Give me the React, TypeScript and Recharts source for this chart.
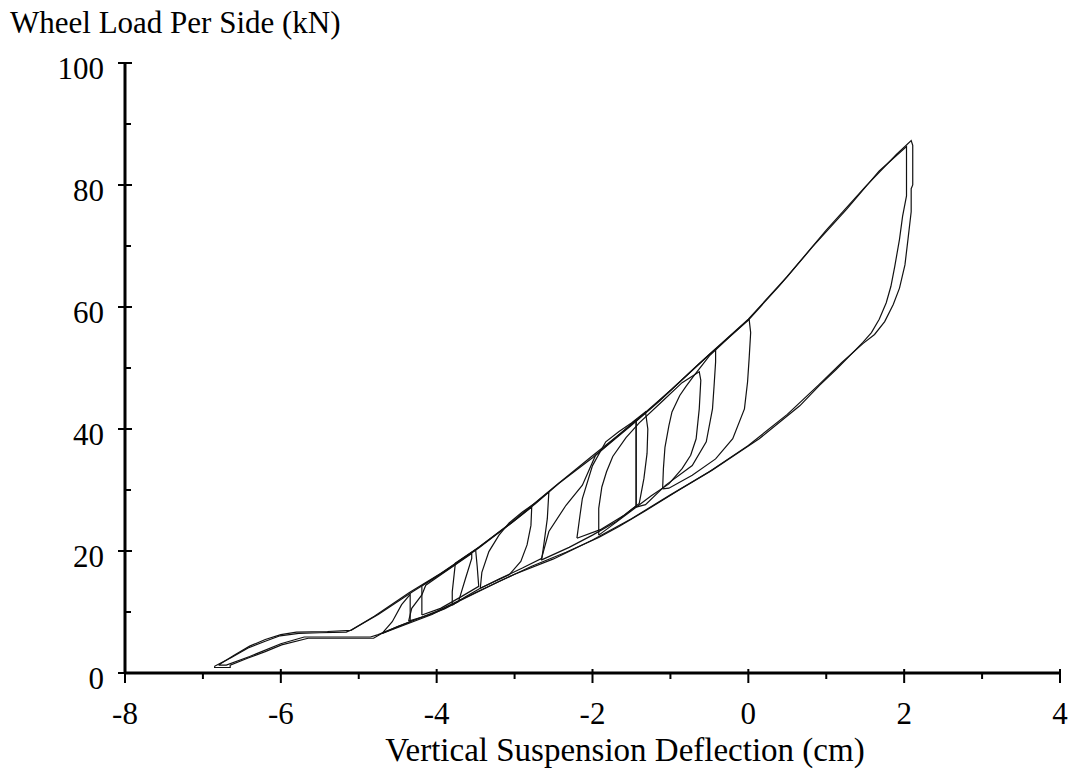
import React from 'react';
import { LineChart, Line, XAxis, YAxis } from 'recharts';

const FONT = '"Liberation Serif", "Times New Roman", serif';

const xTicks = [-8, -7, -6, -5, -4, -3, -2, -1, 0, 1, 2, 3, 4];
const yTicks = [0, 10, 20, 30, 40, 50, 60, 70, 80, 90, 100];
const xMajor = [-8, -6, -4, -2, 0, 2, 4];
const yMajor = [0, 20, 40, 60, 80, 100];
const xTitle = 'Vertical Suspension Deflection (cm)';
const yTitle = 'Wheel Load Per Side (kN)';

// Outer hysteresis loop, first cycle
const outerA: number[][] = [
  [-6.85, 1.1], [-6.64, 2.5], [-6.42, 4.1], [-6.2, 5.2], [-6.01, 6.1], [-5.77, 6.5], [-5.5, 6.6],
  [-5.16, 6.7], [-5.09, 7.1], [-4.75, 9.6], [-4.3, 13.4], [-3.9, 16.6], [-3.46, 20.5], [-3.0, 25.0],
  [-2.73, 27.8], [-2.43, 31.1], [-2.0, 35.3], [-1.5, 40.6], [-1.14, 44.6], [-0.89, 47.6], [-0.5, 52.2],
  [0.01, 58.0], [0.4, 63.5], [0.82, 69.8], [1.26, 76.0], [1.68, 82.3], [2.03, 86.3],
  [2.03, 78.2], [1.98, 74.9], [1.94, 71.1], [1.88, 66.7], [1.83, 63.4], [1.77, 60.7], [1.68, 58.0],
  [1.58, 55.8], [1.47, 54.2], [1.3, 52.0], [1.13, 49.8], [0.91, 47.1], [0.66, 43.8], [0.4, 41.1],
  [0.14, 38.4], [-0.12, 36.2], [-0.46, 33.3], [-0.89, 30.0], [-1.32, 26.6], [-1.66, 24.0],
  [-1.92, 22.2], [-2.34, 19.8], [-2.78, 17.5], [-3.2, 15.0], [-3.63, 12.3], [-4.06, 9.6], [-4.49, 7.5],
  [-4.7, 6.5], [-4.81, 5.7], [-5.65, 5.7], [-5.99, 4.6], [-6.2, 3.5], [-6.42, 2.45], [-6.65, 1.3],
  [-6.65, 0.9], [-6.85, 0.9], [-6.85, 1.1],
];

// Outer hysteresis loop, second cycle
const outerB: number[][] = [
  [-6.8, 1.3], [-6.6, 2.9], [-6.4, 4.4], [-6.2, 5.5], [-6.0, 6.3], [-5.8, 6.7], [-5.4, 6.8],
  [-5.1, 7.0], [-4.8, 9.3], [-4.35, 13.2], [-3.95, 16.3], [-3.5, 20.2], [-3.02, 24.9], [-2.5, 30.4],
  [-2.0, 35.6], [-1.52, 40.5], [-1.0, 46.3], [-0.52, 52.0], [0.0, 58.0], [0.5, 65.0], [1.0, 72.6],
  [1.5, 79.7], [1.9, 85.0], [2.09, 87.3], [2.11, 86.5], [2.11, 80.0], [2.09, 79.4], [2.09, 75.6],
  [2.05, 71.2], [2.01, 66.9], [1.94, 63.1], [1.86, 60.4], [1.75, 57.6], [1.62, 55.5], [1.47, 54.0],
  [1.2, 50.9], [0.9, 47.2], [0.5, 42.4], [0.0, 37.3], [-0.5, 33.0], [-1.0, 29.2], [-1.5, 25.3],
  [-2.0, 21.8], [-2.5, 18.7], [-3.0, 16.2], [-3.5, 13.2], [-4.0, 10.1], [-4.5, 7.6], [-4.75, 6.3],
  [-4.85, 5.9], [-5.7, 5.9], [-6.0, 4.8], [-6.4, 2.7], [-6.7, 1.3], [-6.8, 1.3],
];

// Minor loops
const loop1: number[][] = [
  [-1.1, 30.2], [-1.09, 33.5], [-1.07, 37.0], [-1.02, 40.5], [-0.98, 42.8], [-0.88, 45.5], [-0.8, 47.0],
  [-0.7, 48.7], [-0.5, 52.0], [-0.25, 55.0], [0.01, 58.0], [0.03, 55.8], [0.01, 51.5], [-0.01, 47.7],
  [-0.05, 43.3], [-0.2, 38.4], [-0.42, 35.1], [-0.72, 32.4], [-1.02, 30.3], [-1.1, 30.2],
];
const loop2: number[][] = [
  [-1.44, 27.2], [-1.44, 41.3], [-1.2, 44.0], [-0.9, 47.5], [-0.65, 50.5], [-0.42, 53.1], [-0.42, 51.0],
  [-0.44, 47.0], [-0.46, 43.3], [-0.54, 37.9], [-0.72, 34.0], [-1.06, 30.8], [-1.32, 27.6], [-1.44, 27.2],
];
const loop3: number[][] = [
  [-1.92, 22.6], [-1.92, 27.0], [-1.88, 30.5], [-1.82, 33.0], [-1.74, 35.5], [-1.57, 38.6], [-1.4, 41.0],
  [-1.1, 44.6], [-0.85, 47.6], [-0.63, 49.4], [-0.61, 48.0], [-0.63, 43.3], [-0.67, 38.4], [-0.74, 35.7],
  [-0.85, 33.5], [-1.02, 31.0], [-1.25, 29.0], [-1.5, 26.6], [-1.75, 24.2], [-1.92, 22.6],
];
const loop4: number[][] = [
  [-2.2, 22.1], [-2.16, 25.9], [-2.13, 28.6], [-2.0, 34.0], [-1.83, 37.9], [-1.66, 39.6], [-1.5, 41.0],
  [-1.32, 42.8], [-1.29, 40.0], [-1.3, 36.0], [-1.34, 31.9], [-1.4, 27.8], [-1.6, 25.8], [-1.9, 23.5],
  [-2.2, 22.1],
];
const loop5: number[][] = [
  [-2.66, 18.5], [-2.56, 23.2], [-2.34, 27.5], [-2.13, 30.8], [-1.96, 35.7], [-1.7, 38.6], [-1.44, 41.5],
  [-1.44, 27.4], [-1.7, 24.8], [-2.0, 22.6], [-2.3, 20.6], [-2.66, 18.5],
];
const loop6: number[][] = [
  [-3.44, 13.9], [-3.42, 16.5], [-3.33, 19.9], [-3.2, 22.6], [-3.07, 24.6], [-2.9, 26.4], [-2.73, 27.9],
  [-2.56, 29.7], [-2.58, 25.3], [-2.62, 21.5], [-2.65, 18.8], [-2.9, 17.2], [-3.2, 15.4], [-3.44, 13.9],
];
const loop7: number[][] = [
  [-3.8, 11.1], [-3.8, 13.3], [-3.76, 18.0], [-3.46, 20.6], [-3.1, 24.0], [-2.78, 27.2], [-2.79, 24.2],
  [-2.84, 21.0], [-2.92, 18.3], [-3.07, 16.1], [-3.44, 13.9], [-3.63, 12.5], [-3.8, 11.1],
];
const loop8: number[][] = [
  [-4.19, 9.5], [-4.19, 12.3], [-4.19, 14.3], [-3.9, 16.7], [-3.5, 20.2], [-3.48, 17.5], [-3.46, 14.2],
  [-3.7, 12.4], [-3.95, 10.6], [-4.19, 9.5],
];
const loop9: number[][] = [
  [-4.36, 8.5], [-4.32, 10.6], [-4.19, 12.8], [-4.14, 14.4], [-3.9, 16.5], [-3.55, 19.6], [-3.55, 18.8],
  [-3.63, 15.5], [-3.72, 11.7], [-3.9, 10.5], [-4.1, 9.5], [-4.36, 8.5],
];
const loop10: number[][] = [
  [-4.7, 6.5], [-4.57, 8.4], [-4.45, 11.2], [-4.34, 12.9], [-4.34, 8.4], [-4.5, 7.6], [-4.7, 6.5],
];

const series = [outerA, outerB, loop1, loop2, loop3, loop4, loop5, loop6, loop7, loop8, loop9, loop10];

const toPts = (a: number[][]) => a.map(([x, y]) => ({ x, y }));

const YTick = (props: any) => {
  const { x, y, payload } = props;
  const v = payload.value as number;
  const major = yMajor.includes(v);
  return (
    <g>
      {major ? (
        <line x1={x - 7} x2={x + 7} y1={y} y2={y} stroke="#000" strokeWidth={2} />
      ) : (
        <line x1={x} x2={x + 6} y1={y} y2={y} stroke="#000" strokeWidth={2} />
      )}
      {major && (
        <text x={x - 21} y={y + 16} textAnchor="end" fontFamily={FONT} fontSize={31} fill="#000">
          {String(v)}
        </text>
      )}
    </g>
  );
};

const XTick = (props: any) => {
  const { x, y, payload } = props;
  const v = payload.value as number;
  const major = xMajor.includes(v);
  return (
    <g>
      {major ? (
        <line x1={x} x2={x} y1={y - 4} y2={y + 10} stroke="#000" strokeWidth={2} />
      ) : (
        <line x1={x} x2={x} y1={y} y2={y + 6} stroke="#000" strokeWidth={2} />
      )}
      {major && (
        <text x={x} y={y + 51} textAnchor="middle" fontFamily={FONT} fontSize={31} fill="#000">
          {String(v)}
        </text>
      )}
    </g>
  );
};

const YTitleLabel = () => (
  <text x={10} y={33} fontFamily={FONT} fontSize={31} fill="#000">
    {yTitle}
  </text>
);

const XTitleLabel = () => (
  <text x={625} y={761} textAnchor="middle" fontFamily={FONT} fontSize={33} fill="#000">
    {xTitle}
  </text>
);

export default function App() {
  return (
    <div style={{ position: 'absolute', left: 0, top: 0, width: 1069, height: 771, background: '#fff' }}>
      <LineChart width={1069} height={771} margin={{ top: 63, right: 9, bottom: 0, left: 0 }}>
        <XAxis
          type="number"
          dataKey="x"
          domain={[-8, 4]}
          ticks={xTicks}
          interval={0}
          allowDataOverflow
          height={98}
          tickSize={0}
          tickMargin={0}
          tickLine={false}
          axisLine={{ stroke: '#000', strokeWidth: 3 }}
          tick={<XTick />}
          label={<XTitleLabel />}
        />
        <YAxis
          type="number"
          dataKey="y"
          domain={[0, 100]}
          ticks={yTicks}
          interval={0}
          allowDataOverflow
          width={125}
          tickSize={0}
          tickMargin={0}
          tickLine={false}
          axisLine={{ stroke: '#000', strokeWidth: 3 }}
          tick={<YTick />}
          label={<YTitleLabel />}
        />
        {series.map((s, i) => (
          <Line
            key={i}
            data={toPts(s)}
            dataKey="y"
            type="linear"
            stroke="#111"
            strokeWidth={1.2}
            dot={false}
            activeDot={false}
            isAnimationActive={false}
          />
        ))}
      </LineChart>
    </div>
  );
}
